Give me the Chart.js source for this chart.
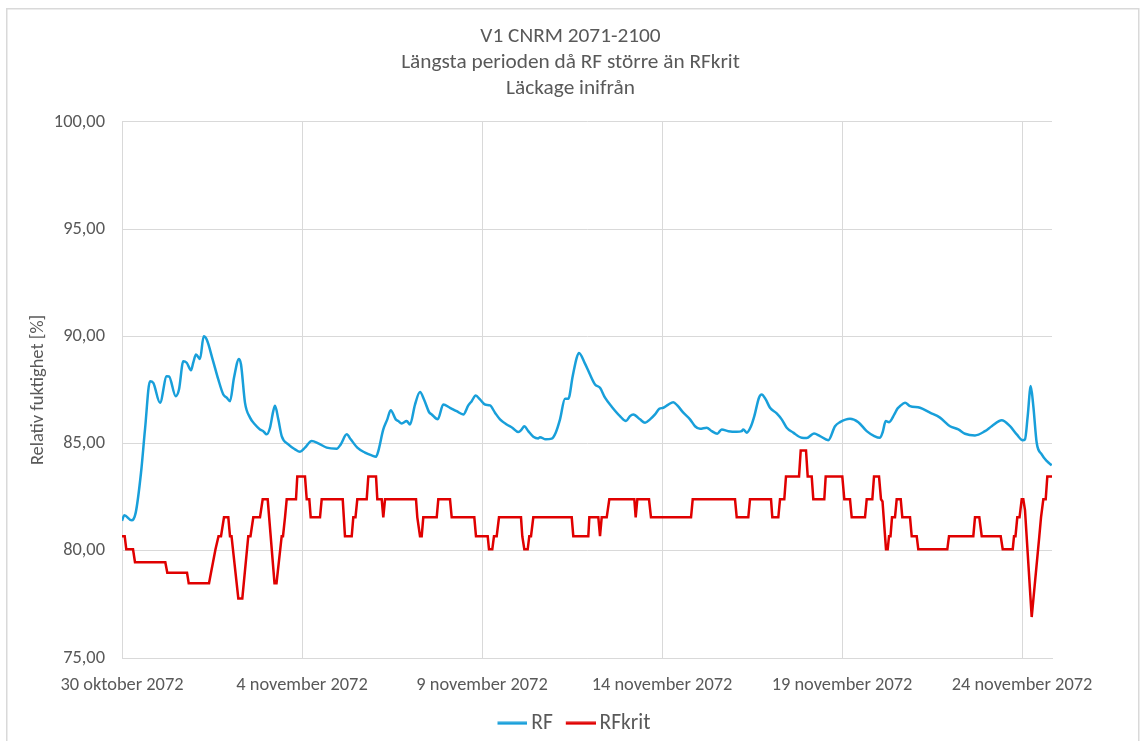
<!DOCTYPE html>
<html>
<head>
<meta charset="utf-8">
<script src="https://cdn.jsdelivr.net/npm/chart.js@4.4.1/dist/chart.umd.min.js"></script>
<style>
html,body{margin:0;padding:0;background:#fff;}
canvas{display:block;}
</style>
</head>
<body>
<canvas id="c" width="1141" height="741"></canvas>
<script>
const titleLines = ['V1 CNRM 2071-2100', 'Längsta perioden då RF större än RFkrit', 'Läckage inifrån'];
const yAxisTitle = 'Relativ fuktighet [%]';
const seriesNames = ['RF', 'RFkrit'];
const tickDays = [0, 5, 10, 15, 20, 25];
const tickLabels = ['30 oktober 2072', '4 november 2072', '9 november 2072', '14 november 2072', '19 november 2072', '24 november 2072'];
const xMaxDay = 25.833;

const rfDays = [0,0.064,0.269,0.381,0.528,0.639,0.778,0.869,1.056,1.242,1.306,1.492,1.583,1.703,1.797,1.917,1.981,2.056,2.167,2.269,2.353,2.519,2.675,2.814,2.908,3.0,3.111,3.25,3.306,3.417,3.556,3.694,3.833,3.925,4.019,4.111,4.20,4.25,4.342,4.436,4.619,4.806,4.944,5.083,5.269,5.453,5.686,5.964,6.075,6.242,6.353,6.536,6.75,6.936,7.056,7.119,7.258,7.369,7.464,7.603,7.675,7.769,7.908,8.0,8.139,8.278,8.389,8.536,8.603,8.769,8.925,9.111,9.297,9.481,9.619,9.714,9.825,9.944,10.083,10.222,10.361,10.5,10.686,10.842,11.008,11.103,11.175,11.286,11.425,11.564,11.611,11.769,11.936,12.047,12.167,12.306,12.397,12.519,12.630,12.694,12.861,13.0,13.139,13.278,13.417,13.603,13.833,14.0,14.111,14.203,14.389,14.528,14.667,14.806,14.925,15.036,15.175,15.314,15.425,15.592,15.778,15.917,16.056,16.242,16.381,16.536,16.658,16.842,17.075,17.214,17.258,17.353,17.472,17.564,17.694,17.769,17.881,18.0,18.186,18.325,18.464,18.647,18.881,19.019,19.222,19.389,19.619,19.806,19.944,20.222,20.453,20.686,20.897,21.056,21.131,21.214,21.306,21.453,21.542,21.611,21.75,21.889,22.167,22.444,22.722,23.0,23.231,23.417,23.694,23.972,24.158,24.436,24.667,24.853,25.019,25.083,25.158,25.242,25.314,25.408,25.547,25.686,25.825];
const rfValues = [81.40,81.66,81.42,81.78,83.64,85.66,87.91,87.83,86.90,88.14,88.13,87.21,87.52,88.84,88.77,88.42,88.79,89.15,88.95,90.00,89.85,88.92,87.99,87.29,87.14,86.98,88.07,88.95,88.69,86.90,86.21,85.89,85.66,85.58,85.43,85.74,86.50,86.76,86.13,85.35,84.96,84.73,84.62,84.81,85.12,85.01,84.81,84.76,84.96,85.43,85.20,84.81,84.58,84.45,84.39,84.65,85.66,86.13,86.56,86.13,86.05,85.94,86.05,85.89,86.82,87.40,87.06,86.45,86.36,86.13,86.82,86.67,86.51,86.36,86.78,86.98,87.24,87.06,86.82,86.78,86.44,86.13,85.89,85.74,85.54,85.66,85.81,85.58,85.32,85.24,85.30,85.20,85.23,85.51,86.13,87.09,87.09,88.14,89.00,89.23,88.73,88.22,87.76,87.60,87.14,86.72,86.28,86.05,86.28,86.36,86.13,85.97,86.13,86.36,86.62,86.67,86.82,86.93,86.78,86.44,86.13,85.81,85.69,85.74,85.58,85.46,85.66,85.58,85.55,85.58,85.66,85.51,85.81,86.28,87.14,87.29,87.06,86.67,86.41,86.13,85.74,85.51,85.27,85.26,85.47,85.35,85.16,85.81,86.00,86.16,86.00,85.58,85.35,85.27,85.54,86.05,86.00,86.36,86.64,86.75,86.90,86.75,86.67,86.44,86.21,85.81,85.66,85.46,85.38,85.58,85.81,86.09,85.81,85.43,85.16,85.20,86.28,87.68,86.75,85.04,84.50,84.19,83.99];

const rfkritDays = [0,0.075,0.119,0.306,0.361,1.203,1.258,1.806,1.853,2.417,2.472,2.528,2.597,2.681,2.75,2.833,2.953,3.0,3.042,3.231,3.342,3.508,3.569,3.647,3.833,3.908,4.047,4.236,4.292,4.436,4.472,4.528,4.575,4.833,4.869,5.083,5.131,5.203,5.242,5.5,5.547,6.131,6.194,6.381,6.425,6.486,6.536,6.797,6.842,7.056,7.092,7.214,7.258,7.306,8.167,8.203,8.278,8.325,8.369,8.742,8.786,9.111,9.158,9.786,9.833,10.158,10.194,10.286,10.333,10.408,10.472,11.083,11.119,11.175,11.269,11.314,11.361,11.425,12.492,12.536,12.953,12.981,13.231,13.278,13.325,13.464,13.536,14.231,14.269,14.314,14.639,14.694,15.806,15.853,17.028,17.075,17.397,17.444,18.028,18.064,18.231,18.278,18.397,18.444,18.806,18.853,19.0,19.047,19.158,19.203,19.508,19.547,20.008,20.064,20.222,20.269,20.639,20.686,20.842,20.889,21.028,21.083,21.125,21.222,21.269,21.306,21.347,21.389,21.472,21.519,21.631,21.675,21.889,21.936,22.075,22.119,22.925,22.972,23.647,23.694,23.814,23.881,24.408,24.464,24.742,24.778,24.819,24.869,24.931,24.992,25.036,25.083,25.269,25.481,25.528,25.592,25.658,25.703,25.833];
const rfkritValues = [80.68,80.68,80.07,80.07,79.47,79.47,78.98,78.98,78.49,78.49,78.98,79.47,80.07,80.68,80.68,81.56,81.56,80.68,80.68,77.78,77.78,80.68,80.68,81.56,81.56,82.40,82.40,78.49,78.49,80.68,80.68,81.56,82.40,82.40,83.47,83.47,82.40,82.40,81.56,81.56,82.40,82.40,80.68,80.68,81.56,81.56,82.40,82.40,83.47,83.47,82.40,82.40,81.56,82.40,82.40,81.56,80.68,80.68,81.56,81.56,82.40,82.40,81.56,81.56,80.68,80.68,80.07,80.07,80.68,80.68,81.56,81.56,80.68,80.07,80.07,80.68,80.68,81.56,81.56,80.68,80.68,81.56,81.56,80.68,81.56,81.56,82.40,82.40,81.56,82.40,82.40,81.56,81.56,82.40,82.40,81.56,81.56,82.40,82.40,81.56,81.56,82.40,82.40,83.47,83.47,84.68,84.68,83.47,83.47,82.40,82.40,83.47,83.47,82.40,82.40,81.56,81.56,82.40,82.40,83.47,83.47,82.40,82.30,80.07,80.07,80.68,80.68,81.56,81.56,82.40,82.40,81.56,81.56,80.68,80.68,80.07,80.07,80.68,80.68,81.56,81.56,80.68,80.68,80.07,80.07,80.68,80.68,81.56,81.56,82.40,82.40,81.90,76.91,80.68,81.56,82.40,82.40,83.47,83.47];

const FONT = 'Carlito, Calibri, Lato, sans-serif';
const TEXT = '#595959';
const GRID = '#d9d9d9';
const BLUE = '#189FDA';
const RED = '#E00000';

const toPoints = (xs, ys) => xs.map((x, i) => ({x: x, y: ys[i]}));

// legend sample: a 30px line drawn in the right part of a 44px image
function legendLine(color) {
  const cv = document.createElement('canvas');
  cv.width = 44; cv.height = 4;
  const g = cv.getContext('2d');
  g.fillStyle = color;
  g.fillRect(14, 0.5, 30, 3);
  return cv;
}

const framePlugin = {
  id: 'frame',
  beforeDraw(chart) {
    const c = chart.ctx;
    c.save();
    c.fillStyle = '#ffffff';
    c.fillRect(0, 0, chart.width, chart.height);
    c.strokeStyle = GRID;
    c.lineWidth = 1.5;
    c.strokeRect(6.75, 8.75, 1132, 740);
    c.restore();
  }
};

Chart.defaults.font.family = FONT;
Chart.defaults.color = TEXT;

new Chart(document.getElementById('c'), {
  type: 'line',
  data: {
    datasets: [
      {
        label: seriesNames[0],
        data: toPoints(rfDays, rfValues),
        borderColor: BLUE,
        backgroundColor: BLUE,
        borderWidth: 2.5,
        pointRadius: 0,
        pointStyle: legendLine(BLUE),
        cubicInterpolationMode: 'monotone',
        fill: false,
        yAxisID: 'y'
      },
      {
        label: seriesNames[1],
        data: toPoints(rfkritDays, rfkritValues),
        borderColor: RED,
        backgroundColor: RED,
        borderWidth: 2.5,
        pointRadius: 0,
        pointStyle: legendLine(RED),
        tension: 0,
        fill: false,
        yAxisID: 'y'
      }
    ]
  },
  options: {
    responsive: false,
    animation: false,
    devicePixelRatio: 1,
    layout: {padding: {left: 0, right: 0, top: 0, bottom: -3}},
    plugins: {
      title: {
        display: true,
        text: titleLines,
        color: TEXT,
        font: {family: FONT, size: 21.3, weight: 'normal', lineHeight: 1.22},
        padding: {top: 24, bottom: 20}
      },
      legend: {
        position: 'bottom',
        labels: {
          usePointStyle: true,
          pointStyleWidth: 30,
          color: TEXT,
          font: {family: FONT, size: 21.5},
          padding: 6
        }
      },
      tooltip: {enabled: false}
    },
    scales: {
      x: {
        type: 'linear',
        min: 0,
        max: xMaxDay,
        grid: {color: GRID, drawTicks: false},
        border: {color: GRID},
        ticks: {
          padding: 16,
          color: TEXT,
          font: {family: FONT, size: 18.4},
          maxRotation: 0,
          autoSkip: false,
          callback: (v) => { const i = tickDays.indexOf(v); return i >= 0 ? tickLabels[i] : ''; }
        },
        afterBuildTicks: (s) => { s.ticks = tickDays.map(v => ({value: v})); },
        afterFit: (s) => { s.height = 48.5; }
      },
      y: {
        position: 'left',
        min: 75,
        max: 100,
        grid: {color: GRID, drawTicks: false},
        border: {color: GRID},
        ticks: {
          stepSize: 5,
          padding: 17,
          color: TEXT,
          font: {family: FONT, size: 18.4},
          callback: (v) => Number(v).toFixed(2).replace('.', ',')
        },
        title: {
          display: true,
          text: yAxisTitle,
          color: TEXT,
          font: {family: FONT, size: 18.4},
          padding: {top: 27, bottom: 0}
        },
        afterFit: (s) => { s.width = 122; }
      },
      spacer: {
        position: 'right',
        display: true,
        grid: {display: false, drawTicks: false},
        border: {display: false},
        ticks: {display: false},
        afterFit: (s) => { s.width = 89; }
      }
    }
  },
  plugins: [framePlugin]
});
</script>
</body>
</html>
